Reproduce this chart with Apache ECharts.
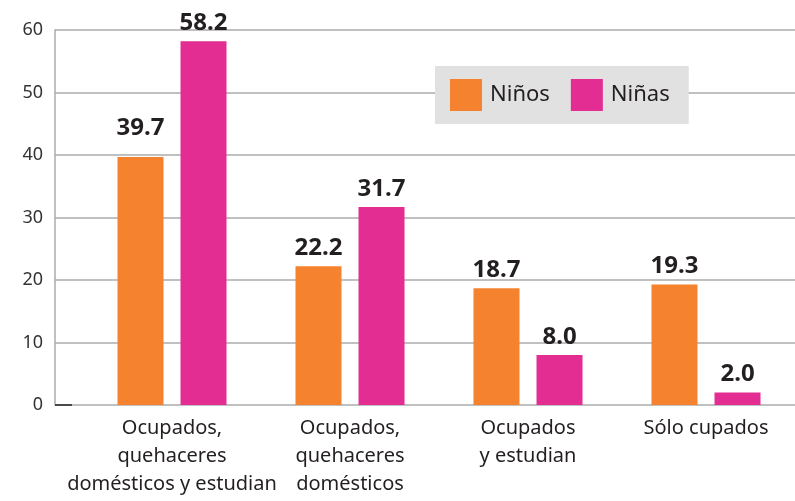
<!DOCTYPE html>
<html>
<head>
<meta charset="utf-8">
<script src="https://cdn.jsdelivr.net/npm/echarts@6/dist/echarts.min.js"></script>
<style>
  html, body { margin: 0; padding: 0; background: #fff; }
  #chart { width: 795px; height: 501px; }
</style>
</head>
<body>
<div id="chart"></div>
<script>
// Data
const categories = [
  'Ocupados,\nquehaceres\ndomésticos y estudian',
  'Ocupados,\nquehaceres\ndomésticos',
  'Ocupados\ny estudian',
  'Sólo cupados'
]
const ninos = [39.7, 22.2, 18.7, 19.3]
const ninas = [58.2, 31.7, 8.0, 2.0]
const yTicks = [0, 10, 20, 30, 40, 50, 60]

const FONT = 'Noto Sans'
const TEXT = '#231f20'
const GRID_COLOR = '#ababab'

const chart = echarts.init(document.getElementById('chart'), null, { renderer: 'canvas' })

const valueLabel = {
  show: true,
  position: 'top',
  distance: 6,
  fontFamily: FONT,
  fontSize: 24,
  fontWeight: 'bold',
  color: TEXT,
  formatter: p => p.value.toFixed(1)
}

// the first orange label sits a bit higher in the original
const withLabelLift = (values, lifts) =>
  values.map((v, i) => lifts[i] ? { value: v, label: { distance: lifts[i] } } : v)

chart.setOption({
  animation: false,
  backgroundColor: '#fff',
  // grid 0: axis frame and gridlines, grid 1: bars
  grid: [
    { left: 55, right: 0, top: 30, bottom: 96 },
    { left: 83, right: -5, top: 30, bottom: 96 }
  ],
  legend: {
    data: ['Niños', 'Niñas'],
    left: 435,
    top: 66,
    backgroundColor: '#e1e1e2',
    padding: [13, 19, 13, 15],
    itemGap: 21,
    itemWidth: 32,
    itemHeight: 32,
    icon: 'rect',
    textStyle: { fontFamily: FONT, fontSize: 22, color: TEXT, padding: [0, 0, 0, 3] }
  },
  xAxis: [
    { gridIndex: 0, type: 'category', data: categories, show: false },
    {
      gridIndex: 1,
      type: 'category',
      data: categories,
      axisLine: { show: false },
      axisTick: { show: false },
      axisLabel: {
        interval: 0,
        margin: 9,
        fontFamily: FONT,
        fontSize: 20,
        lineHeight: 28,
        color: TEXT,
        align: 'center'
      }
    }
  ],
  yAxis: [
    {
      gridIndex: 0,
      type: 'value',
      min: yTicks[0],
      max: yTicks[yTicks.length - 1],
      interval: 10,
      axisLine: { show: true, lineStyle: { color: GRID_COLOR, width: 1.5 } },
      axisTick: { show: false },
      axisLabel: { margin: 12, fontFamily: FONT, fontSize: 18, color: '#333' },
      splitLine: { show: true, lineStyle: { color: GRID_COLOR, width: 1.5 } }
    },
    {
      gridIndex: 1,
      type: 'value',
      min: yTicks[0],
      max: yTicks[yTicks.length - 1],
      interval: 10,
      show: false,
      splitLine: { show: false }
    }
  ],
  series: [
    {
      name: 'Niños',
      type: 'bar',
      xAxisIndex: 1,
      yAxisIndex: 1,
      data: withLabelLift(ninos, [17]),
      barWidth: 46,
      barGap: '37%',
      itemStyle: { color: '#f5822f' },
      label: valueLabel
    },
    {
      name: 'Niñas',
      type: 'bar',
      xAxisIndex: 1,
      yAxisIndex: 1,
      data: ninas,
      barWidth: 46,
      barGap: '37%',
      itemStyle: { color: '#e42d92' },
      label: valueLabel
    }
  ]
})

// short dark tick at the origin
const y0 = chart.convertToPixel({ yAxisIndex: 0 }, 0)
chart.setOption({
  graphic: [{
    type: 'line',
    shape: { x1: 55, y1: y0, x2: 72, y2: y0 },
    style: { stroke: '#4a4a4a', lineWidth: 2 },
    z: 10
  }]
})
</script>
</body>
</html>
